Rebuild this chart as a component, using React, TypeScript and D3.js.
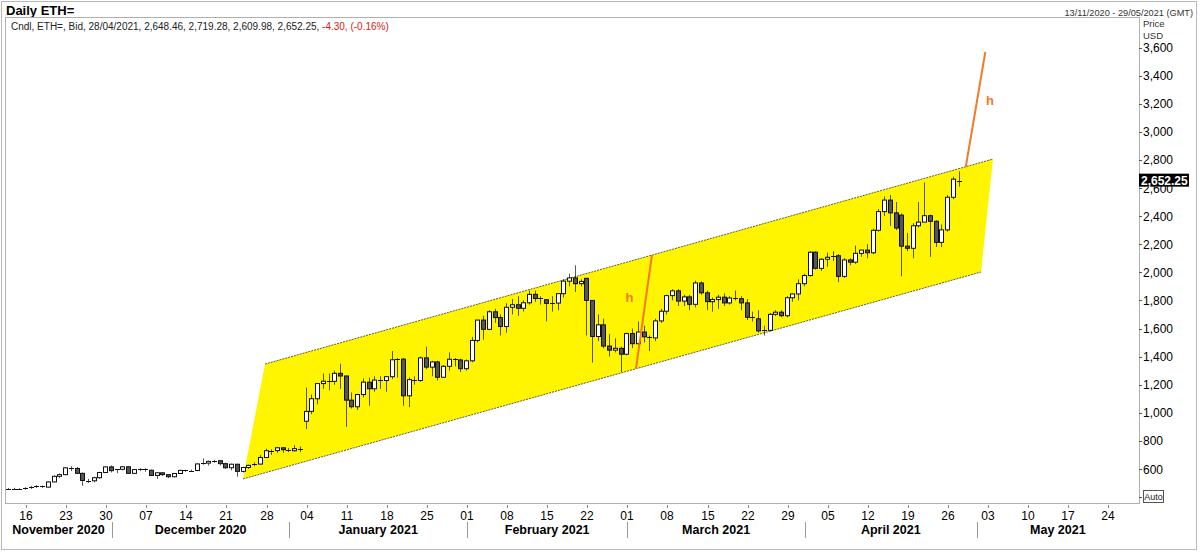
import React from 'react';
import * as d3 from 'd3';

// ---- data ----
const startDate = '2020-11-13';
// [open, high, low, close] one per calendar day from startDate
const ohlc: [number, number, number, number][] = [
  [460, 465, 455, 461], [461, 466, 455, 460], [460, 463, 452, 458], [458, 470, 452, 462],
  [462, 480, 458, 470], [470, 485, 465, 478], [478, 482, 465, 471], [471, 512, 468, 508],
  [508, 555, 505, 548], [548, 568, 535, 560], [560, 615, 555, 608], [608, 620, 585, 604],
  [604, 614, 565, 569], [569, 575, 480, 518], [518, 530, 500, 516], [516, 545, 505, 538],
  [538, 580, 530, 575], [575, 620, 570, 615], [615, 625, 575, 588], [588, 600, 570, 598],
  [598, 620, 590, 616], [616, 618, 565, 569], [569, 600, 565, 596], [596, 605, 585, 601],
  [601, 605, 580, 591], [591, 596, 550, 554], [554, 576, 530, 573], [573, 578, 550, 560],
  [560, 562, 535, 545], [545, 570, 540, 568], [568, 595, 565, 590], [590, 595, 580, 586],
  [586, 595, 580, 589], [589, 640, 585, 636], [636, 675, 630, 642], [642, 660, 625, 654],
  [654, 665, 645, 659], [659, 665, 625, 638], [638, 645, 600, 609], [609, 638, 590, 634],
  [634, 637, 545, 583], [583, 615, 575, 611], [611, 630, 600, 626], [626, 648, 620, 635],
  [635, 700, 630, 682], [682, 745, 680, 730], [730, 740, 700, 731], [731, 755, 715, 751],
  [751, 755, 715, 737], [737, 750, 720, 730], [730, 770, 725, 745], [745, 760, 720, 740],
  [940, 1180, 885, 1010], [1010, 1130, 990, 1100], [1100, 1210, 1060, 1208], [1208, 1280, 1170, 1225],
  [1225, 1280, 1160, 1224], [1224, 1300, 1200, 1281], [1281, 1350, 1170, 1262], [1262, 1265, 900, 1090],
  [1090, 1145, 1030, 1043], [1043, 1135, 1020, 1130], [1130, 1245, 1110, 1218], [1218, 1250, 1050, 1171],
  [1171, 1260, 1150, 1233], [1233, 1260, 1170, 1230], [1230, 1260, 1150, 1257], [1257, 1440, 1240, 1377],
  [1377, 1390, 1250, 1382], [1382, 1390, 1050, 1121], [1121, 1250, 1040, 1236], [1236, 1260, 1200, 1230],
  [1230, 1400, 1220, 1391], [1391, 1470, 1310, 1325], [1325, 1370, 1260, 1362], [1362, 1370, 1230, 1253],
  [1253, 1340, 1250, 1331], [1331, 1430, 1300, 1381], [1381, 1390, 1330, 1376], [1376, 1385, 1290, 1314],
  [1314, 1380, 1300, 1370], [1370, 1540, 1360, 1515], [1515, 1660, 1500, 1660], [1660, 1690, 1520, 1594],
  [1594, 1730, 1590, 1719], [1719, 1740, 1640, 1678], [1678, 1700, 1550, 1614], [1614, 1780, 1570, 1751],
  [1751, 1810, 1700, 1769], [1769, 1830, 1690, 1744], [1744, 1800, 1720, 1783], [1783, 1870, 1770, 1843],
  [1843, 1870, 1790, 1814], [1814, 1830, 1770, 1805], [1805, 1810, 1650, 1779], [1779, 1830, 1720, 1781],
  [1781, 1850, 1730, 1848], [1848, 1950, 1820, 1937], [1937, 1990, 1900, 1960], [1960, 2050, 1860, 1919],
  [1919, 1950, 1900, 1935], [1957, 1960, 1550, 1800], [1800, 1800, 1357, 1543], [1543, 1700, 1510, 1626],
  [1626, 1670, 1460, 1475], [1475, 1560, 1400, 1446], [1446, 1530, 1430, 1459], [1459, 1470, 1290, 1417],
  [1417, 1570, 1410, 1564], [1564, 1600, 1460, 1492], [1492, 1650, 1480, 1575], [1575, 1620, 1500, 1541],
  [1541, 1550, 1440, 1533], [1533, 1670, 1510, 1654], [1654, 1740, 1640, 1723], [1723, 1840, 1700, 1834],
  [1834, 1880, 1800, 1868], [1868, 1880, 1760, 1795], [1795, 1840, 1760, 1825], [1825, 1840, 1730, 1772],
  [1772, 1940, 1750, 1924], [1924, 1935, 1840, 1854], [1854, 1870, 1730, 1791], [1791, 1820, 1720, 1806],
  [1806, 1840, 1740, 1823], [1823, 1850, 1760, 1782], [1782, 1830, 1770, 1817], [1817, 1870, 1800, 1812],
  [1812, 1830, 1730, 1782], [1782, 1810, 1660, 1680], [1680, 1720, 1650, 1669], [1669, 1730, 1570, 1583],
  [1583, 1620, 1550, 1587], [1587, 1710, 1580, 1701], [1701, 1730, 1690, 1716], [1716, 1730, 1680, 1691],
  [1691, 1830, 1680, 1819], [1819, 1850, 1790, 1846], [1846, 1950, 1800, 1919], [1919, 1990, 1900, 1977],
  [1977, 2150, 1970, 2143], [2143, 2150, 2020, 2028], [2028, 2100, 2010, 2093], [2093, 2140, 2040, 2107],
  [2107, 2150, 2080, 2118], [2118, 2130, 1930, 1971], [1971, 2100, 1960, 2088], [2088, 2100, 2050, 2072],
  [2072, 2190, 2060, 2135], [2135, 2160, 2110, 2158], [2158, 2200, 2100, 2139], [2139, 2310, 2130, 2299],
  [2299, 2450, 2290, 2432], [2432, 2540, 2400, 2514], [2514, 2550, 2330, 2423], [2423, 2500, 2300, 2315],
  [2407, 2420, 1971, 2186], [2186, 2280, 2150, 2171], [2171, 2350, 2100, 2331], [2331, 2500, 2320, 2357],
  [2357, 2640, 2360, 2403], [2403, 2410, 2110, 2363], [2363, 2370, 2180, 2213], [2213, 2340, 2180, 2302],
  [2302, 2550, 2290, 2534], [2534, 2680, 2520, 2663], [2648.46, 2719.28, 2609.98, 2652.25],
];

const channelLower: [string, number][] = [['2020-12-23T21:00Z', 529], ['2021-05-01T18:00Z', 2002]];
const channelUpper: [string, number][] = [['2020-12-27T17:30Z', 1347], ['2021-05-03T20:00Z', 2806]];
const heightLine1: [string, number][] = [['2021-03-02T12:00Z', 1312], ['2021-03-05T07:00Z', 2123]];
const heightLine2: [string, number][] = [['2021-04-29T02:00Z', 2749], ['2021-05-02T12:00Z', 3568]];
const hLabels: [string, number][] = [['2021-03-01T09:00Z', 1790], ['2021-05-03T07:00Z', 3190]];

const yTicks = [600, 800, 1000, 1200, 1400, 1600, 1800, 2000, 2200, 2400, 2600, 2800, 3000, 3200, 3400, 3600];
const xTickDates = ['2020-11-16', '2020-11-23', '2020-11-30', '2020-12-07', '2020-12-14', '2020-12-21', '2020-12-28',
  '2021-01-04', '2021-01-11', '2021-01-18', '2021-01-25', '2021-02-01', '2021-02-08', '2021-02-15', '2021-02-22',
  '2021-03-01', '2021-03-08', '2021-03-15', '2021-03-22', '2021-03-29', '2021-04-05', '2021-04-12', '2021-04-19',
  '2021-04-26', '2021-05-03', '2021-05-10', '2021-05-17', '2021-05-24'];
const months = [
  { label: 'November 2020', start: '2020-11-01' },
  { label: 'December 2020', start: '2020-12-01' },
  { label: 'January 2021', start: '2021-01-01' },
  { label: 'February 2021', start: '2021-02-01' },
  { label: 'March 2021', start: '2021-03-01' },
  { label: 'April 2021', start: '2021-04-01' },
  { label: 'May 2021', start: '2021-05-01' },
];
const lastPrice = 2652.25;

const FONT = '"Liberation Sans", Arial, sans-serif';
const YELLOW = '#fff500';
const ORANGE = '#f37a2a';

export default function App() {
  const L = 5, R = 1139, T = 17, B = 503;
  const x = d3.scaleUtc()
    .domain([new Date('2020-11-12T08:00Z'), new Date('2021-05-29T08:00Z')])
    .range([L, R]);
  const y = d3.scaleLinear().domain([600, 3600]).range([469, 47.5]);
  const d0 = new Date(startDate + 'T00:00Z');
  const candles = ohlc.map((v, i) => ({
    date: d3.utcDay.offset(d0, i), o: v[0], h: v[1], l: v[2], c: v[3],
  }));
  const pt = (p: [string, number]) => [x(new Date(p[0])), y(p[1])];
  const poly = [pt(channelLower[0]), pt(channelUpper[0]), pt(channelUpper[1]), pt(channelLower[1])];
  const line = d3.line();
  const monthEnd = new Date('2021-06-01T00:00Z');
  const lastY = y(lastPrice);

  return (
    <svg width={1200} height={552} style={{ display: 'block', position: 'absolute', left: 0, top: 0, background: '#fff' }}
      fontFamily={FONT}>
      <rect x={0} y={0} width={1200} height={552} fill="#fff" />
      <rect x={1.5} y={1.5} width={1195} height={548} fill="none" stroke="#b8b8b8" />
      {/* header */}
      <text x={6} y={15} fontSize={13} fontWeight="bold" fill="#000">Daily ETH=</text>
      <text x={1193} y={16} fontSize={9.2} textAnchor="end" fill="#333">13/11/2020 - 29/05/2021 (GMT)</text>
      <text x={1143} y={27} fontSize={9.5} fill="#333">Price</text>
      <text x={1143} y={39} fontSize={9.5} fill="#333">USD</text>

      {/* plot frame */}
      <rect x={L + 0.5} y={T + 0.5} width={R - L} height={B - T} fill="#fff" stroke="#b0b0b0" />
      <text x={11} y={30} fontSize={10} fill="#222">
        Cndl, ETH=, Bid, 28/04/2021, 2,648.46, 2,719.28, 2,609.98, 2,652.25, <tspan fill="#e02020">-4.30, (-0.16%)</tspan>
      </text>

      {/* channel */}
      <polygon points={poly.map(p => p.join(',')).join(' ')} fill={YELLOW} />
      <path d={line([poly[0], poly[3]] as any) || ''} stroke="#333" strokeWidth={0.8} strokeDasharray="2,1" fill="none" />
      <path d={line([poly[1], poly[2]] as any) || ''} stroke="#333" strokeWidth={0.8} strokeDasharray="2,1" fill="none" />

      {/* candles */}
      {candles.map((d, i) => {
        const cx = Math.round(x(d.date));
        const up = d.c >= d.o;
        const top = y(Math.max(d.o, d.c));
        const bot = y(Math.min(d.o, d.c));
        const hgt = Math.max(bot - top, 1);
        return (
          <g key={i}>
            <line x1={cx - 0.5} x2={cx - 0.5} y1={y(d.h)} y2={y(d.l)} stroke="#000" strokeOpacity={0.65} />
            {hgt < 1.6 ? (
              <line x1={cx - 3} x2={cx + 2} y1={Math.round(top) + 0.5} y2={Math.round(top) + 0.5} stroke="#111" />
            ) : (
              <rect x={cx - 2.5} y={top} width={4} height={hgt} fill={up ? '#fff' : '#555'} stroke="#111" strokeWidth={1} />
            )}
          </g>
        );
      })}

      {/* height lines */}
      <path d={line([pt(heightLine1[0]), pt(heightLine1[1])] as any) || ''} stroke={ORANGE} strokeWidth={2} fill="none" />
      <path d={line([pt(heightLine2[0]), pt(heightLine2[1])] as any) || ''} stroke={ORANGE} strokeWidth={2} fill="none" />
      {hLabels.map((p, i) => {
        const [hx, hy] = pt(p);
        return <text key={i} x={hx} y={hy} fontSize={13} fontWeight="bold" fill={ORANGE} textAnchor="middle">h</text>;
      })}

      {/* y axis */}
      {yTicks.map(t => {
        const ty = y(t);
        return (
          <g key={t}>
            <line x1={R} x2={R + 3} y1={Math.round(ty) + 0.5} y2={Math.round(ty) + 0.5} stroke="#555" />
            <text x={R + 4} y={ty + 4.5} fontSize={12} fill="#000">{d3.format(',')(t)}</text>
          </g>
        );
      })}
      <line x1={R} x2={R + 3} y1={497.5} y2={497.5} stroke="#555" />
      <rect x={1143.5} y={490.5} width={20} height={12} fill="#fff" stroke="#555" />
      <text x={1153.5} y={500} fontSize={9} textAnchor="middle" fill="#222">Auto</text>
      {/* last price badge drawn over the 2,600 label, as in the source */}
      <rect x={1139} y={lastY - 7} width={50} height={13} fill="#000" />
      <text x={1141} y={lastY + 4.5} fontSize={12} fontWeight="bold" fill="#fff">{d3.format(',.2f')(lastPrice)}</text>

      {/* x axis */}
      {xTickDates.map(s => {
        const xx = Math.round(x(new Date(s + 'T00:00Z')));
        return (
          <g key={s}>
            <line x1={xx + 0.5} x2={xx + 0.5} y1={B + 2} y2={B + 5} stroke="#888" />
            <text x={xx} y={520} fontSize={12} textAnchor="middle" fill="#000">{s.slice(8, 10)}</text>
          </g>
        );
      })}
      {months.map((m, i) => {
        const s = new Date(m.start + 'T00:00Z');
        const e = i < months.length - 1 ? new Date(months[i + 1].start + 'T00:00Z') : monthEnd;
        const x0 = Math.max(L, x(s));
        const x1 = Math.min(R, x(e));
        const sep = x(s);
        return (
          <g key={m.label}>
            {sep > L + 2 && <line x1={Math.round(sep) + 0.5} x2={Math.round(sep) + 0.5} y1={522} y2={538} stroke="#999" />}
            <text x={(x0 + x1) / 2} y={534} fontSize={12.5} fontWeight="bold" textAnchor="middle" fill="#000">{m.label}</text>
          </g>
        );
      })}
    </svg>
  );
}
